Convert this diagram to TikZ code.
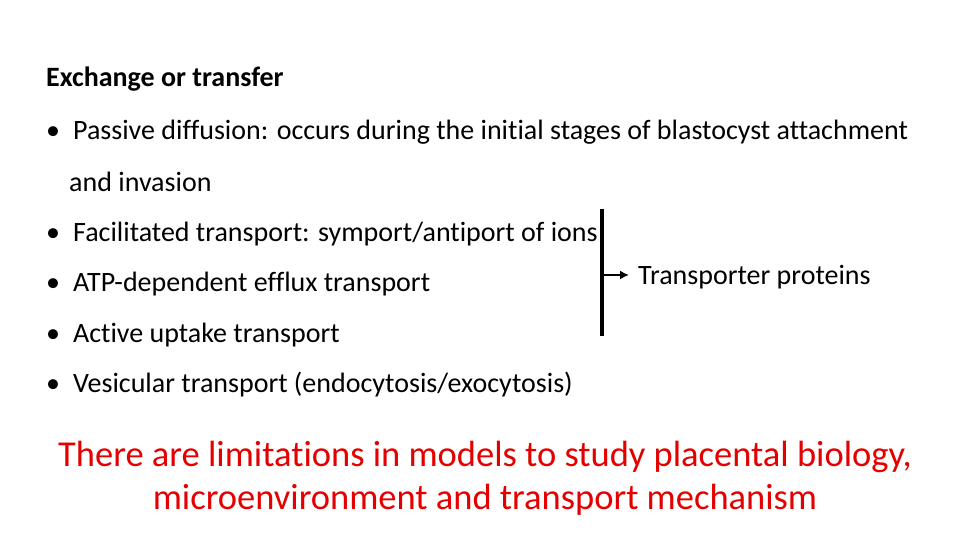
\documentclass[tikz,border=0pt]{standalone}
\usepackage{fontspec}
\setmainfont{Carlito}[Ligatures=NoCommon]
\usetikzlibrary{arrows.meta}
\begin{document}
\begin{tikzpicture}[x=1pt,y=-1pt,
  txt/.style={anchor=base west,inner sep=0pt,font=\fontsize{28}{32}\selectfont},
  red/.style={anchor=base,inner sep=0pt,text=red!90!black,font=\fontsize{36.5}{40}\selectfont}]
\useasboundingbox (0,0) rectangle (960,540);
\node[txt,font=\bfseries\fontsize{28}{32}\selectfont] (t) at (46,87) {Exchange or transfer};
\node[txt] (b1) at (46,140) {\textbullet\hspace{13pt}Passive diffusion: occurs during the initial stages of blastocyst attachment};
\node[txt] (b1b) at (69,191) {and invasion};
\node[txt] (b2) at (46,241) {\textbullet\hspace{13pt}Facilitated transport: symport/antiport of ions};
\node[txt] (b3) at (46,291) {\textbullet\hspace{13pt}ATP-dependent efflux transport};
\node[txt] (b4) at (46,342) {\textbullet\hspace{13pt}Active uptake transport};
\node[txt] (b5) at (46,392) {\textbullet\hspace{13pt}Vesicular transport (endocytosis/exocytosis)};
\coordinate (top) at (602,209);
\coordinate (bot) at (602,336);
\coordinate (mid) at (602,275);
\coordinate (tip) at (629,275);
\draw[line width=3.5pt] (top) -- (bot);
\node[txt] (tp) at (638,284) {Transporter proteins};
\draw[line width=2.5pt,-{Latex[length=9pt,width=9pt]}] (mid) -- (tip);
\node[red] (r1) at (485,466) {There are limitations in models to study placental biology,};
\node[red] (r2) at (485,509) {microenvironment and transport mechanism};
\end{tikzpicture}
\end{document}
